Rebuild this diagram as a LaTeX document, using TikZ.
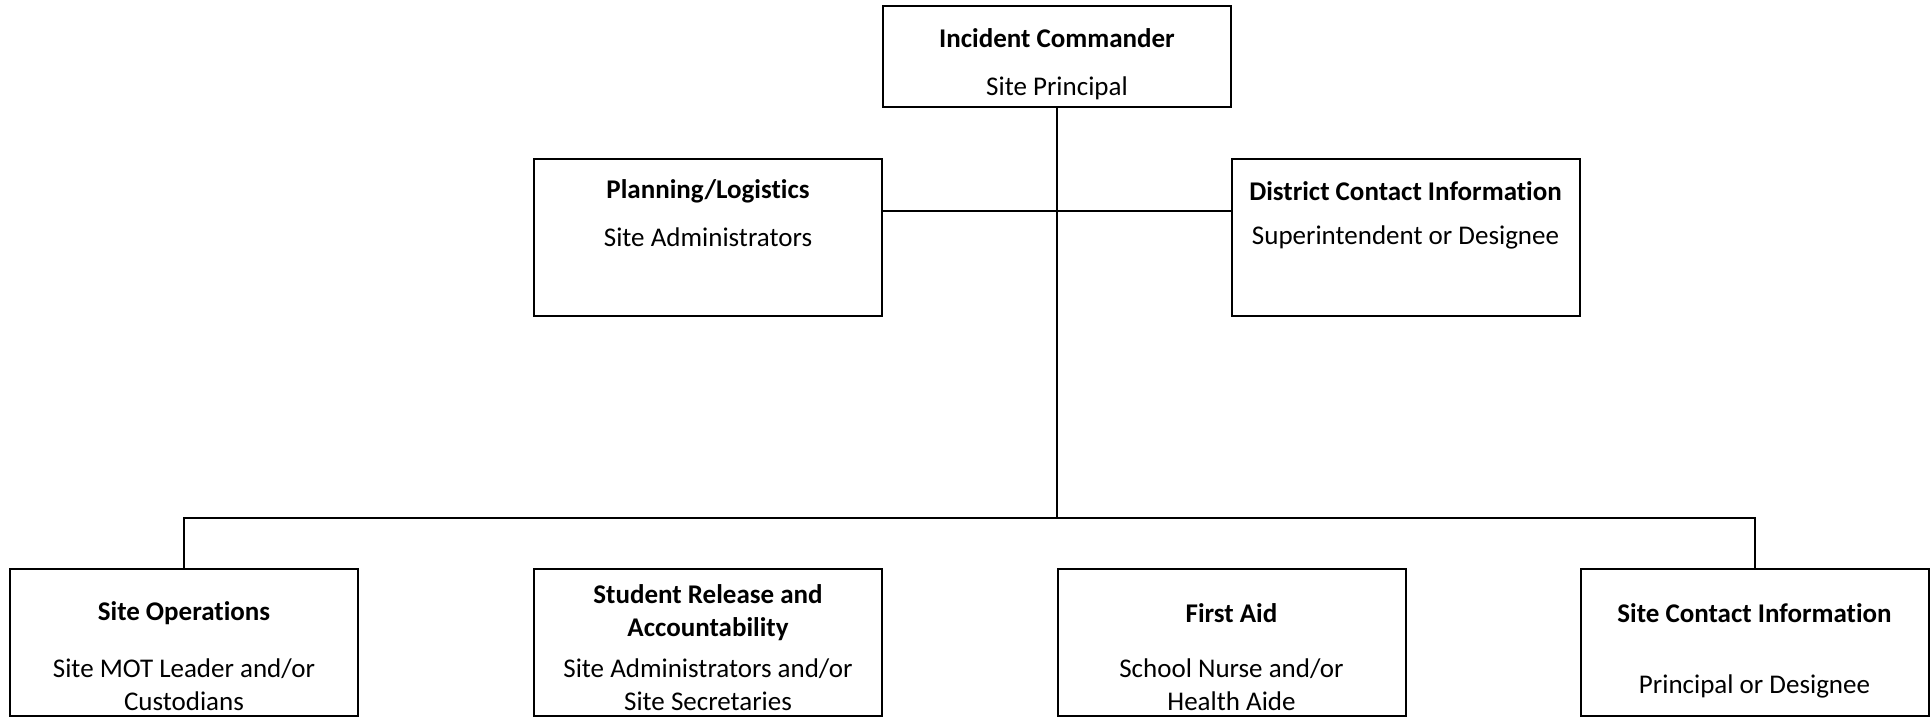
\documentclass[tikz,border=0pt]{standalone}
\usepackage{fontspec}
\setmainfont{Carlito}[Ligatures={NoCommon}]
\usetikzlibrary{positioning}

\begin{document}
\begin{tikzpicture}[x=0.5pt, y=-0.5pt, font=\fontsize{13.5}{16.5}\selectfont]

  % Define styles
  \tikzset{
    box/.style={draw=black, line width=1pt, minimum width=174pt, inner sep=0pt, outer sep=0pt},
    topbox/.style={box, minimum height=50.5pt},
    midbox/.style={box, minimum height=78.5pt},
    lowbox/.style={box, minimum height=73.25pt},
    title/.style={font=\fontsize{13.5}{16.5}\selectfont\bfseries, align=center, inner sep=0pt},
    role/.style={align=center, inner sep=0pt},
    link/.style={draw=black, line width=1pt}
  }

  \useasboundingbox (0,0) rectangle (1931,717);

  %% Top: Incident Commander
  \node[topbox] (ic) at (1057,56.5) {};
  \node[title] (icT) at (1057,38) {Incident Commander};
  \node[role] (icR) at (1057,88) {Site Principal};

  %% Middle row
  \node[midbox] (plan) at (708,237.5) {};
  \node[title] (planT) at (708,191.5) {Planning/Logistics};
  \node[role] (planR) at (708,237.5) {Site Administrators};

  \node[midbox] (dist) at (1405.5,237.5) {};
  \node[title] (distT) at (1405.5,191.5) {District Contact Information};
  \node[role] (distR) at (1405.5,237.5) {Superintendent or Designee};

  %% Bottom row
  \node[lowbox] (ops) at (184,642.25) {};
  \node[title] (opsT) at (184,613) {Site Operations};
  \node[role] (opsR) at (184,685) {Site MOT Leader and/or\\Custodians};

  \node[lowbox] (stud) at (708,642.25) {};
  \node[title] (studT) at (708,613) {Student Release and\\Accountability};
  \node[role] (studR) at (708,685) {Site Administrators and/or\\Site Secretaries};

  \node[lowbox] (aid) at (1231.5,642.25) {};
  \node[title] (aidT) at (1231.5,613) {First Aid};
  \node[role] (aidR) at (1231.5,685) {School Nurse and/or\\Health Aide};

  \node[lowbox] (site) at (1754.5,642.25) {};
  \node[title] (siteT) at (1754.5,613) {Site Contact Information};
  \node[role] (siteR) at (1754.5,686) {Principal or Designee};

  % Connectors
  \coordinate (mid) at (1057,211);
  \coordinate (bus) at (1057,518);
  \draw[link] (ic.south) -- (bus);
  \draw[link] (plan.east |- mid) -- (dist.west |- mid);
  \draw[link] (ops.north) |- (bus) -| (site.north);

\end{tikzpicture}
\end{document}
